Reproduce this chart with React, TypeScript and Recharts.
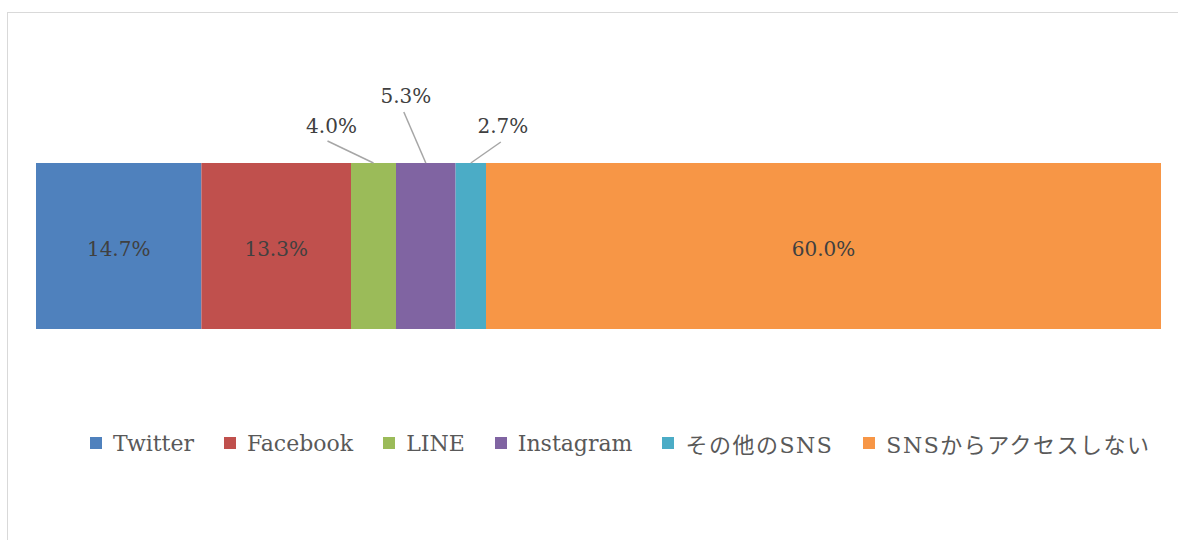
import { BarChart, Bar, XAxis, YAxis, Legend, LabelList } from "recharts";

const categories = ["SNS"];
const seriesNames = ["Twitter", "Facebook", "LINE", "Instagram", "その他のSNS", "SNSからアクセスしない"];
const seriesValues = [14.7, 13.3, 4.0, 5.3, 2.7, 60.0];
const seriesColors = ["#4f81bd", "#c0504d", "#9bbb59", "#8064a2", "#4bacc6", "#f79646"];

// callout offsets for the narrow segments (label centre, leader-line start) relative to the segment's top centre
const callouts: Record<string, { tx: number; ty: number; lx: number; ly: number }> = {
  LINE: { tx: -42, ty: -36, lx: -46, ly: -22 },
  Instagram: { tx: -20, ty: -66, lx: -22, ly: -51 },
  "その他のSNS": { tx: 32, ty: -36, lx: 30, ly: -21 },
};

const data = categories.map((c) => {
  const row: Record<string, string | number> = { name: c };
  seriesNames.forEach((s, i) => (row[s] = seriesValues[i]));
  return row;
});

const FONT = "'DejaVu Serif', 'Noto Sans CJK JP', serif";

function makeLabel(series: string) {
  return (props: any) => {
    const vb = props.viewBox || props;
    const { x, y, width, height } = vb;
    const text = `${Number(props.value).toFixed(1)}%`;
    const c = callouts[series];
    const cx = x + width / 2;
    if (!c) {
      return (
        <text x={cx} y={y + height / 2 + 4} textAnchor="middle" dominantBaseline="middle" fill="#404040" fontSize={20} fontFamily={FONT}>
          {text}
        </text>
      );
    }
    return (
      <g>
        <line x1={cx + c.lx} y1={y + c.ly} x2={cx} y2={y} stroke="#a6a6a6" strokeWidth={1.5} />
        <text x={cx + c.tx} y={y + c.ty} textAnchor="middle" dominantBaseline="middle" fill="#404040" fontSize={20} fontFamily={FONT}>
          {text}
        </text>
      </g>
    );
  };
}

function LegendContent() {
  return (
    <div style={{ display: "flex", justifyContent: "flex-start", paddingLeft: 90, gap: 30, fontFamily: FONT, fontSize: 22, color: "#595959" }}>
      {seriesNames.map((s, i) => (
        <span key={s} style={{ display: "flex", alignItems: "center", whiteSpace: "nowrap", letterSpacing: /[^\x00-\x7f]/.test(s) ? 1.5 : 0 }}>
          <span style={{ width: 12, height: 12, background: seriesColors[i], marginRight: 11, display: "inline-block" }} />
          {s}
        </span>
      ))}
    </div>
  );
}

export default function App() {
  return (
    <div style={{ position: "absolute", left: 0, top: 0, width: 1178, height: 540, overflow: "hidden", background: "#fff" }}>
      <div style={{ position: "absolute", left: 7, top: 12, width: 1300, height: 700, border: "1.5px solid #d9d9d9" }} />
      <div style={{ position: "absolute", left: 0, top: 0 }}>
        <BarChart
          width={1178}
          height={540}
          data={data}
          layout="vertical"
          margin={{ top: 163, bottom: 211, left: 36, right: 17 }}
          barCategoryGap={0}
        >
          <XAxis type="number" domain={[0, 100]} hide />
          <YAxis type="category" dataKey="name" hide />
          <Legend
            verticalAlign="middle"
            align="center"
            layout="horizontal"
            wrapperStyle={{ top: 427, left: 0, width: 1178 }}
            content={<LegendContent />}
          />
          {seriesNames.map((s, i) => (
            <Bar key={s} dataKey={s} stackId="a" fill={seriesColors[i]} isAnimationActive={false}>
              <LabelList dataKey={s} content={makeLabel(s)} />
            </Bar>
          ))}
        </BarChart>
      </div>
    </div>
  );
}
